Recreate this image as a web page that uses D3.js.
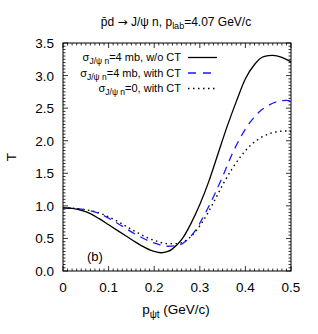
<!DOCTYPE html>
<html>
<head>
<meta charset="utf-8">
<script src="https://d3js.org/d3.v7.min.js"></script>
<style>
  body { margin: 0; background: #fff; }
  text { font-family: "Liberation Sans", Arial, sans-serif; fill: #000; }
</style>
</head>
<body>
<script>
// p_psi_t (GeV/c) sampling points for each curve
var xSolid  = [0, 0.02, 0.04, 0.06, 0.08, 0.10, 0.12, 0.14, 0.16, 0.18, 0.20, 0.215, 0.23, 0.24, 0.26, 0.28, 0.30, 0.32, 0.34, 0.36, 0.38, 0.40, 0.42, 0.44, 0.46, 0.48, 0.50];
var tSolid  = [0.97, 0.96, 0.93, 0.88, 0.80, 0.71, 0.62, 0.53, 0.44, 0.36, 0.30, 0.28, 0.30, 0.34, 0.48, 0.72, 1.02, 1.38, 1.80, 2.22, 2.60, 2.95, 3.17, 3.29, 3.31, 3.28, 3.21];

var xDash   = [0, 0.04, 0.08, 0.12, 0.16, 0.20, 0.23, 0.25, 0.27, 0.29, 0.31, 0.33, 0.35, 0.37, 0.39, 0.41, 0.43, 0.45, 0.47, 0.49, 0.50];
var tDash   = [0.97, 0.95, 0.88, 0.73, 0.56, 0.43, 0.38, 0.39, 0.46, 0.62, 0.86, 1.14, 1.45, 1.78, 2.06, 2.28, 2.44, 2.54, 2.60, 2.62, 2.61];

var xDot    = [0, 0.04, 0.08, 0.12, 0.16, 0.20, 0.23, 0.25, 0.27, 0.29, 0.31, 0.33, 0.35, 0.37, 0.39, 0.41, 0.43, 0.45, 0.47, 0.49, 0.50];
var tDot    = [0.97, 0.95, 0.89, 0.76, 0.60, 0.47, 0.42, 0.42, 0.47, 0.60, 0.80, 1.05, 1.32, 1.56, 1.76, 1.92, 2.03, 2.10, 2.14, 2.15, 2.14];

var xTicks = [0, 0.1, 0.2, 0.3, 0.4, 0.5];
var yTicks = [0, 0.5, 1.0, 1.5, 2.0, 2.5, 3.0, 3.5];

var legendRows = [
  {sub: "J/\u03c8 n", rest: "=4 mb, w/o CT", color: "#000", dash: null},
  {sub: "J/\u03c8 n", rest: "=4 mb, with CT", color: "#1a1aee", dash: "8,7"},
  {sub: "J/\u03c8 n", rest: "=0, with CT", color: "#000", dash: "1.5,3.5"}
];

var W = 318, H = 334;
var pL = 63, pR = 291, pT = 43, pB = 271;

var svg = d3.select("body").append("svg")
    .attr("width", W)
    .attr("height", H);

var x = d3.scaleLinear().domain([0, 0.5]).range([pL, pR]);
var y = d3.scaleLinear().domain([0, 3.5]).range([pB, pT]);

// frame
svg.append("rect")
    .attr("x", pL).attr("y", pT)
    .attr("width", pR - pL).attr("height", pB - pT)
    .style("fill", "none").style("stroke", "#000").style("stroke-width", 1);

// minor + major ticks, inward on all sides
var xMinor = d3.range(0, 51).map(function(i) { return i / 100; });
var yMinor = d3.range(0, 71).map(function(i) { return i * 0.05; });
var tickG = svg.append("g").style("stroke", "#000").style("stroke-width", 0.8);
xMinor.forEach(function(v, i) {
  var len = (i % 10 === 0) ? 5 : 2.5;
  tickG.append("line").attr("x1", x(v)).attr("x2", x(v)).attr("y1", pB).attr("y2", pB - len);
  tickG.append("line").attr("x1", x(v)).attr("x2", x(v)).attr("y1", pT).attr("y2", pT + len);
});
yMinor.forEach(function(v, i) {
  var len = (i % 10 === 0) ? 5 : 2.5;
  tickG.append("line").attr("y1", y(v)).attr("y2", y(v)).attr("x1", pL).attr("x2", pL + len);
  tickG.append("line").attr("y1", y(v)).attr("y2", y(v)).attr("x1", pR).attr("x2", pR - len);
});

// tick labels
svg.selectAll(".xl").data(xTicks).enter().append("text")
    .attr("x", function(d) { return x(d); })
    .attr("y", pB + 21)
    .attr("text-anchor", "middle")
    .style("font-size", "13.5px")
    .text(function(d) { return d === 0 ? "0" : d3.format(".1f")(d); });

svg.selectAll(".yl").data(yTicks).enter().append("text")
    .attr("x", pL - 9)
    .attr("y", function(d) { return y(d) + 5; })
    .attr("text-anchor", "end")
    .style("font-size", "13.5px")
    .text(function(d) { return d3.format(".1f")(d); });

// axis titles
svg.append("text")
    .attr("transform", "translate(16,157) rotate(-90)")
    .attr("text-anchor", "middle")
    .style("font-size", "13.5px")
    .text("T");

var xt = svg.append("text")
    .attr("x", 176).attr("y", 314)
    .attr("text-anchor", "middle")
    .style("font-size", "13.5px");
xt.append("tspan").text("p");
xt.append("tspan").attr("dy", 4).style("font-size", "10px").text("\u03c8t");
xt.append("tspan").attr("dy", -4).text(" (GeV/c)");

// title
var tt = svg.append("text")
    .attr("x", 176).attr("y", 26)
    .attr("text-anchor", "middle")
    .style("font-size", "12px");
tt.append("tspan").text("p\u0304d ");
tt.append("tspan").style("font-family", "DejaVu Sans").text("\u2192");
tt.append("tspan").text(" J/\u03c8 n, p");
tt.append("tspan").attr("dy", 3).style("font-size", "9px").text("lab");
tt.append("tspan").attr("dy", -3).text("=4.07 GeV/c");

// curves
var line = d3.line()
    .x(function(d) { return x(d[0]); })
    .y(function(d) { return y(d[1]); })
    .curve(d3.curveMonotoneX);

function pairs(xs, ys) { return xs.map(function(v, i) { return [v, ys[i]]; }); }

var plot = svg.append("g");
plot.append("path").datum(pairs(xDot, tDot))
    .attr("d", line)
    .style("fill", "none").style("stroke", "#000").style("stroke-width", 1.4)
    .style("stroke-dasharray", "1.5,3.5");
plot.append("path").datum(pairs(xDash, tDash))
    .attr("d", line)
    .style("fill", "none").style("stroke", "#1a1aee").style("stroke-width", 1.3)
    .style("stroke-dasharray", "8,6");
plot.append("path").datum(pairs(xSolid, tSolid))
    .attr("d", line)
    .style("fill", "none").style("stroke", "#000").style("stroke-width", 1.3);

// legend
var lg = svg.append("g");
legendRows.forEach(function(r, i) {
  var ly = 61 + i * 15.5;
  var t = lg.append("text")
      .attr("x", 181).attr("y", ly)
      .attr("text-anchor", "end")
      .style("font-size", "11px");
  t.append("tspan").text("\u03c3");
  t.append("tspan").attr("dy", 3).style("font-size", "8.5px").text(r.sub);
  t.append("tspan").attr("dy", -3).text(r.rest);
  lg.append("line")
      .attr("x1", 188).attr("x2", 217)
      .attr("y1", ly - 3.5).attr("y2", ly - 3.5)
      .style("stroke", r.color).style("stroke-width", 1.3)
      .style("stroke-dasharray", r.dash);
});

// panel label
svg.append("text")
    .attr("x", 87).attr("y", 261)
    .style("font-size", "13px")
    .text("(b)");
</script>
</body>
</html>
